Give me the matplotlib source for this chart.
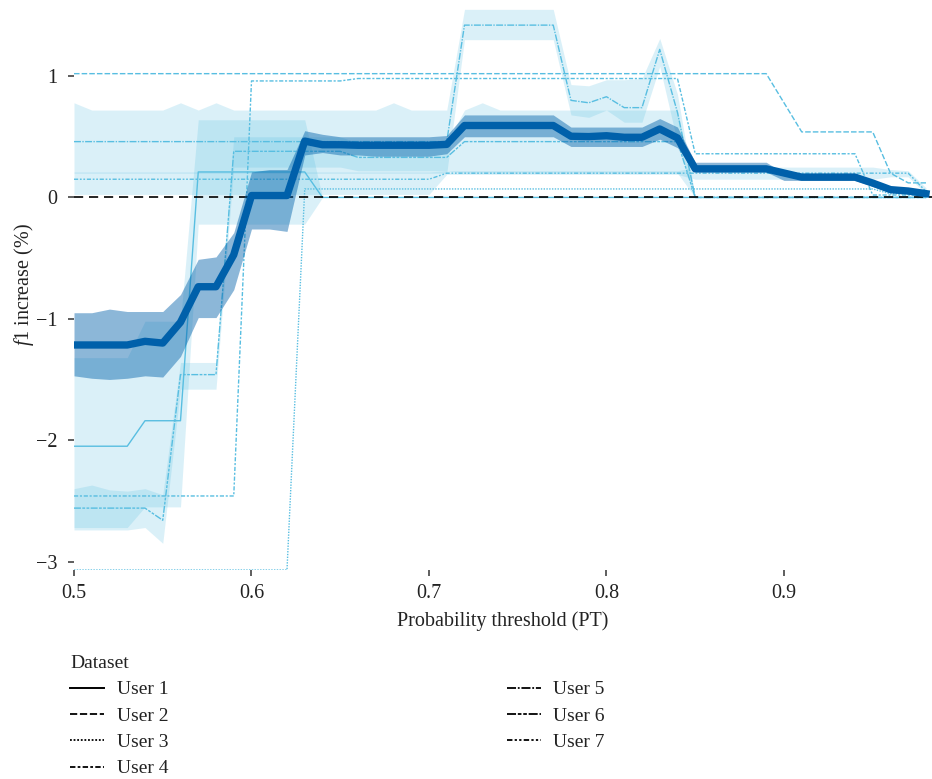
import matplotlib
matplotlib.use("Agg")
import matplotlib.pyplot as plt
from matplotlib.lines import Line2D
import numpy as np

plt.rcParams['font.family'] = ['Liberation Serif', 'DejaVu Serif']
plt.rcParams['mathtext.fontset'] = 'custom'
plt.rcParams['mathtext.rm'] = 'Liberation Serif'
plt.rcParams['mathtext.it'] = 'Liberation Serif:italic'

# ---------------- data ----------------
pt = [0.50, 0.51, 0.52, 0.53, 0.54, 0.55, 0.56, 0.57, 0.58, 0.59,
      0.60, 0.61, 0.62, 0.63, 0.64, 0.65, 0.66, 0.67, 0.68, 0.69,
      0.70, 0.71, 0.72, 0.73, 0.74, 0.75, 0.76, 0.77, 0.78, 0.79,
      0.80, 0.81, 0.82, 0.83, 0.84, 0.85, 0.86, 0.87, 0.88, 0.89,
      0.90, 0.91, 0.92, 0.93, 0.94, 0.95, 0.96, 0.97, 0.98]

user_names = ["User 1", "User 2", "User 3", "User 4", "User 5", "User 6", "User 7"]

user1 = [-2.05]*4 + [-1.84]*3 + [0.21]*7 + [0.0]*35
user1_lo = [-2.72]*4 + [-2.55]*3 + [-0.22]*7 + [0.0]*35
user1_hi = [-1.32]*4 + [-1.02]*3 + [0.64]*7 + [0.0]*35

user2 = [1.02]*40 + [0.78] + [0.54]*5 + [0.20, 0.12, 0.12]

user3 = [-3.07]*13 + [0.07]*33 + [0.03]*3

user4 = [-2.46]*10 + [0.96]*6 + [0.98]*19 + [0.36]*10 + [0.02]*4

user5 = ([0.46]*22 + [1.42]*6 + [0.80, 0.78, 0.83, 0.74, 0.74, 1.22, 0.70]
         + [0.0]*14)
user5_lo = ([0.20]*22 + [1.30]*6 + [0.68, 0.66, 0.72, 0.62, 0.62, 1.08, 0.45]
            + [0.0]*14)
user5_hi = ([0.78] + [0.72]*5 + [0.78, 0.72, 0.78] + [0.72]*9 + [0.78] + [0.72]*3
            + [1.55]*6 + [0.93, 0.92, 0.97, 0.97, 0.98, 1.31, 0.85] + [0.0]*14)

user6 = [-2.56]*5 + [-2.66] + [-1.46]*3 + [0.38]*7 + [0.33]*6 + [0.46]*13 + [0.0]*14
user6_lo = ([-2.74]*4 + [-2.72, -2.85] + [-1.58]*3 + [0.25]*7 + [0.22]*6
            + [0.20]*13 + [0.0]*14)
user6_hi = ([-2.40, -2.37, -2.41, -2.42, -2.40, -2.45] + [-1.36]*3 + [0.50]*7
            + [0.45]*6 + [0.72, 0.78] + [0.72]*11 + [0.0]*14)

user7 = [0.15]*21 + [0.20]*27 + [0.05]
user7_lo = [0.025]*21 + [0.19]*14 + [0.15]*11 + [0.17]*2 + [0.03]
user7_hi = [0.21]*21 + [0.22]*14 + [0.25]*11 + [0.23, 0.22, 0.08]

mean_lo = ([-1.47, -1.49, -1.50, -1.49, -1.47, -1.48, -1.31, -0.99, -0.99, -0.76,
            -0.26, -0.26, -0.28, 0.35, 0.37, 0.35, 0.35, 0.34, 0.34, 0.34, 0.34, 0.36]
           + [0.50]*6 + [0.42]*5 + [0.48, 0.41] + [0.21]*5 + [0.14]*5
           + [0.09, 0.04, 0.03, 0.01])
mean_hi = ([-0.95, -0.95, -0.92, -0.94, -0.94, -0.94, -0.80, -0.51, -0.49, -0.29,
            0.21, 0.23, 0.23, 0.55, 0.52] + [0.50]*6 + [0.51]
           + [0.68]*6 + [0.58]*5 + [0.65, 0.58] + [0.29]*5 + [0.20]*5
           + [0.14, 0.08, 0.07, 0.05])

users = [user1, user2, user3, user4, user5, user6, user7]
bands = [(user1_lo, user1_hi), None, None, None,
         (user5_lo, user5_hi), (user6_lo, user6_hi), (user7_lo, user7_hi)]
mean_line = np.mean(np.array(users), axis=0)

# ---------------- style ----------------
dash_styles = [None, (4, 1.5), (1, 1), (3, 1.25, 1.5, 1.25), (5, 1, 1, 1),
               (5, 1, 2, 1, 2, 1), (3, 1.25, 1.25, 1.25, 1.25, 1.25)]
user_color = "#58bee1"
mean_color = "#0060aa"

fig = plt.figure(figsize=(9.32, 7.79), dpi=100)
ax = fig.add_axes([74/932, 1 - 570/779, (932 - 74)/932, 570/779])

for i, y in enumerate(users):
    if bands[i] is not None:
        ax.fill_between(pt, bands[i][0], bands[i][1], color=user_color,
                        alpha=0.22, lw=0, zorder=1)
for i, y in enumerate(users):
    if dash_styles[i] is None:
        ax.plot(pt, y, color=user_color, lw=1.0, zorder=2)
    else:
        ax.plot(pt, y, color=user_color, lw=1.0, dashes=dash_styles[i], zorder=2)

ax.axhline(0, color="black", lw=1.2, dashes=(5.5, 3.5), zorder=3)
ax.fill_between(pt, mean_lo, mean_hi, color=mean_color, alpha=0.45, lw=0, zorder=4)
ax.plot(pt, mean_line, color=mean_color, lw=5.3, zorder=5)

ax.set_xlim(0.5, 0.9834)
ax.set_ylim(-3.07, 1.627)
ax.set_xticks([0.5, 0.6, 0.7, 0.8, 0.9])
ax.set_xticklabels(["0.5", "0.6", "0.7", "0.8", "0.9"])
ax.set_yticks([-3, -2, -1, 0, 1])
ax.set_yticklabels(["\u22123", "\u22122", "\u22121", "0", "1"])
for s in ax.spines.values():
    s.set_visible(False)
ax.tick_params(axis='both', length=4, width=1.1, color="#333333",
               labelsize=14.5, labelcolor="#222222")
ax.tick_params(axis='y', pad=8)
ax.tick_params(axis='x', pad=6)
ax.set_xlabel("Probability threshold (PT)", fontsize=14.5, color="#222222", labelpad=6)
ax.set_ylabel(r"$\mathit{f}$1 increase (%)", fontsize=14.5, color="#222222", labelpad=0)

handles = []
for i in range(7):
    if dash_styles[i] is None:
        handles.append(Line2D([], [], color="black", lw=1.4))
    else:
        handles.append(Line2D([], [], color="black", lw=1.3, dashes=dash_styles[i]))
leg = fig.legend(handles, user_names, title="Dataset", loc="upper left",
                 bbox_to_anchor=(70/932, 1 - 655/779), ncol=2, frameon=False,
                 alignment="left", fontsize=14, title_fontsize=14,
                 handlelength=1.75, handletextpad=0.65, columnspacing=17.4,
                 labelspacing=0.45, borderpad=0, borderaxespad=0)
for t in leg.get_texts():
    t.set_color("#222222")
leg.get_title().set_color("#222222")

fig.savefig("out.png", dpi=100)
